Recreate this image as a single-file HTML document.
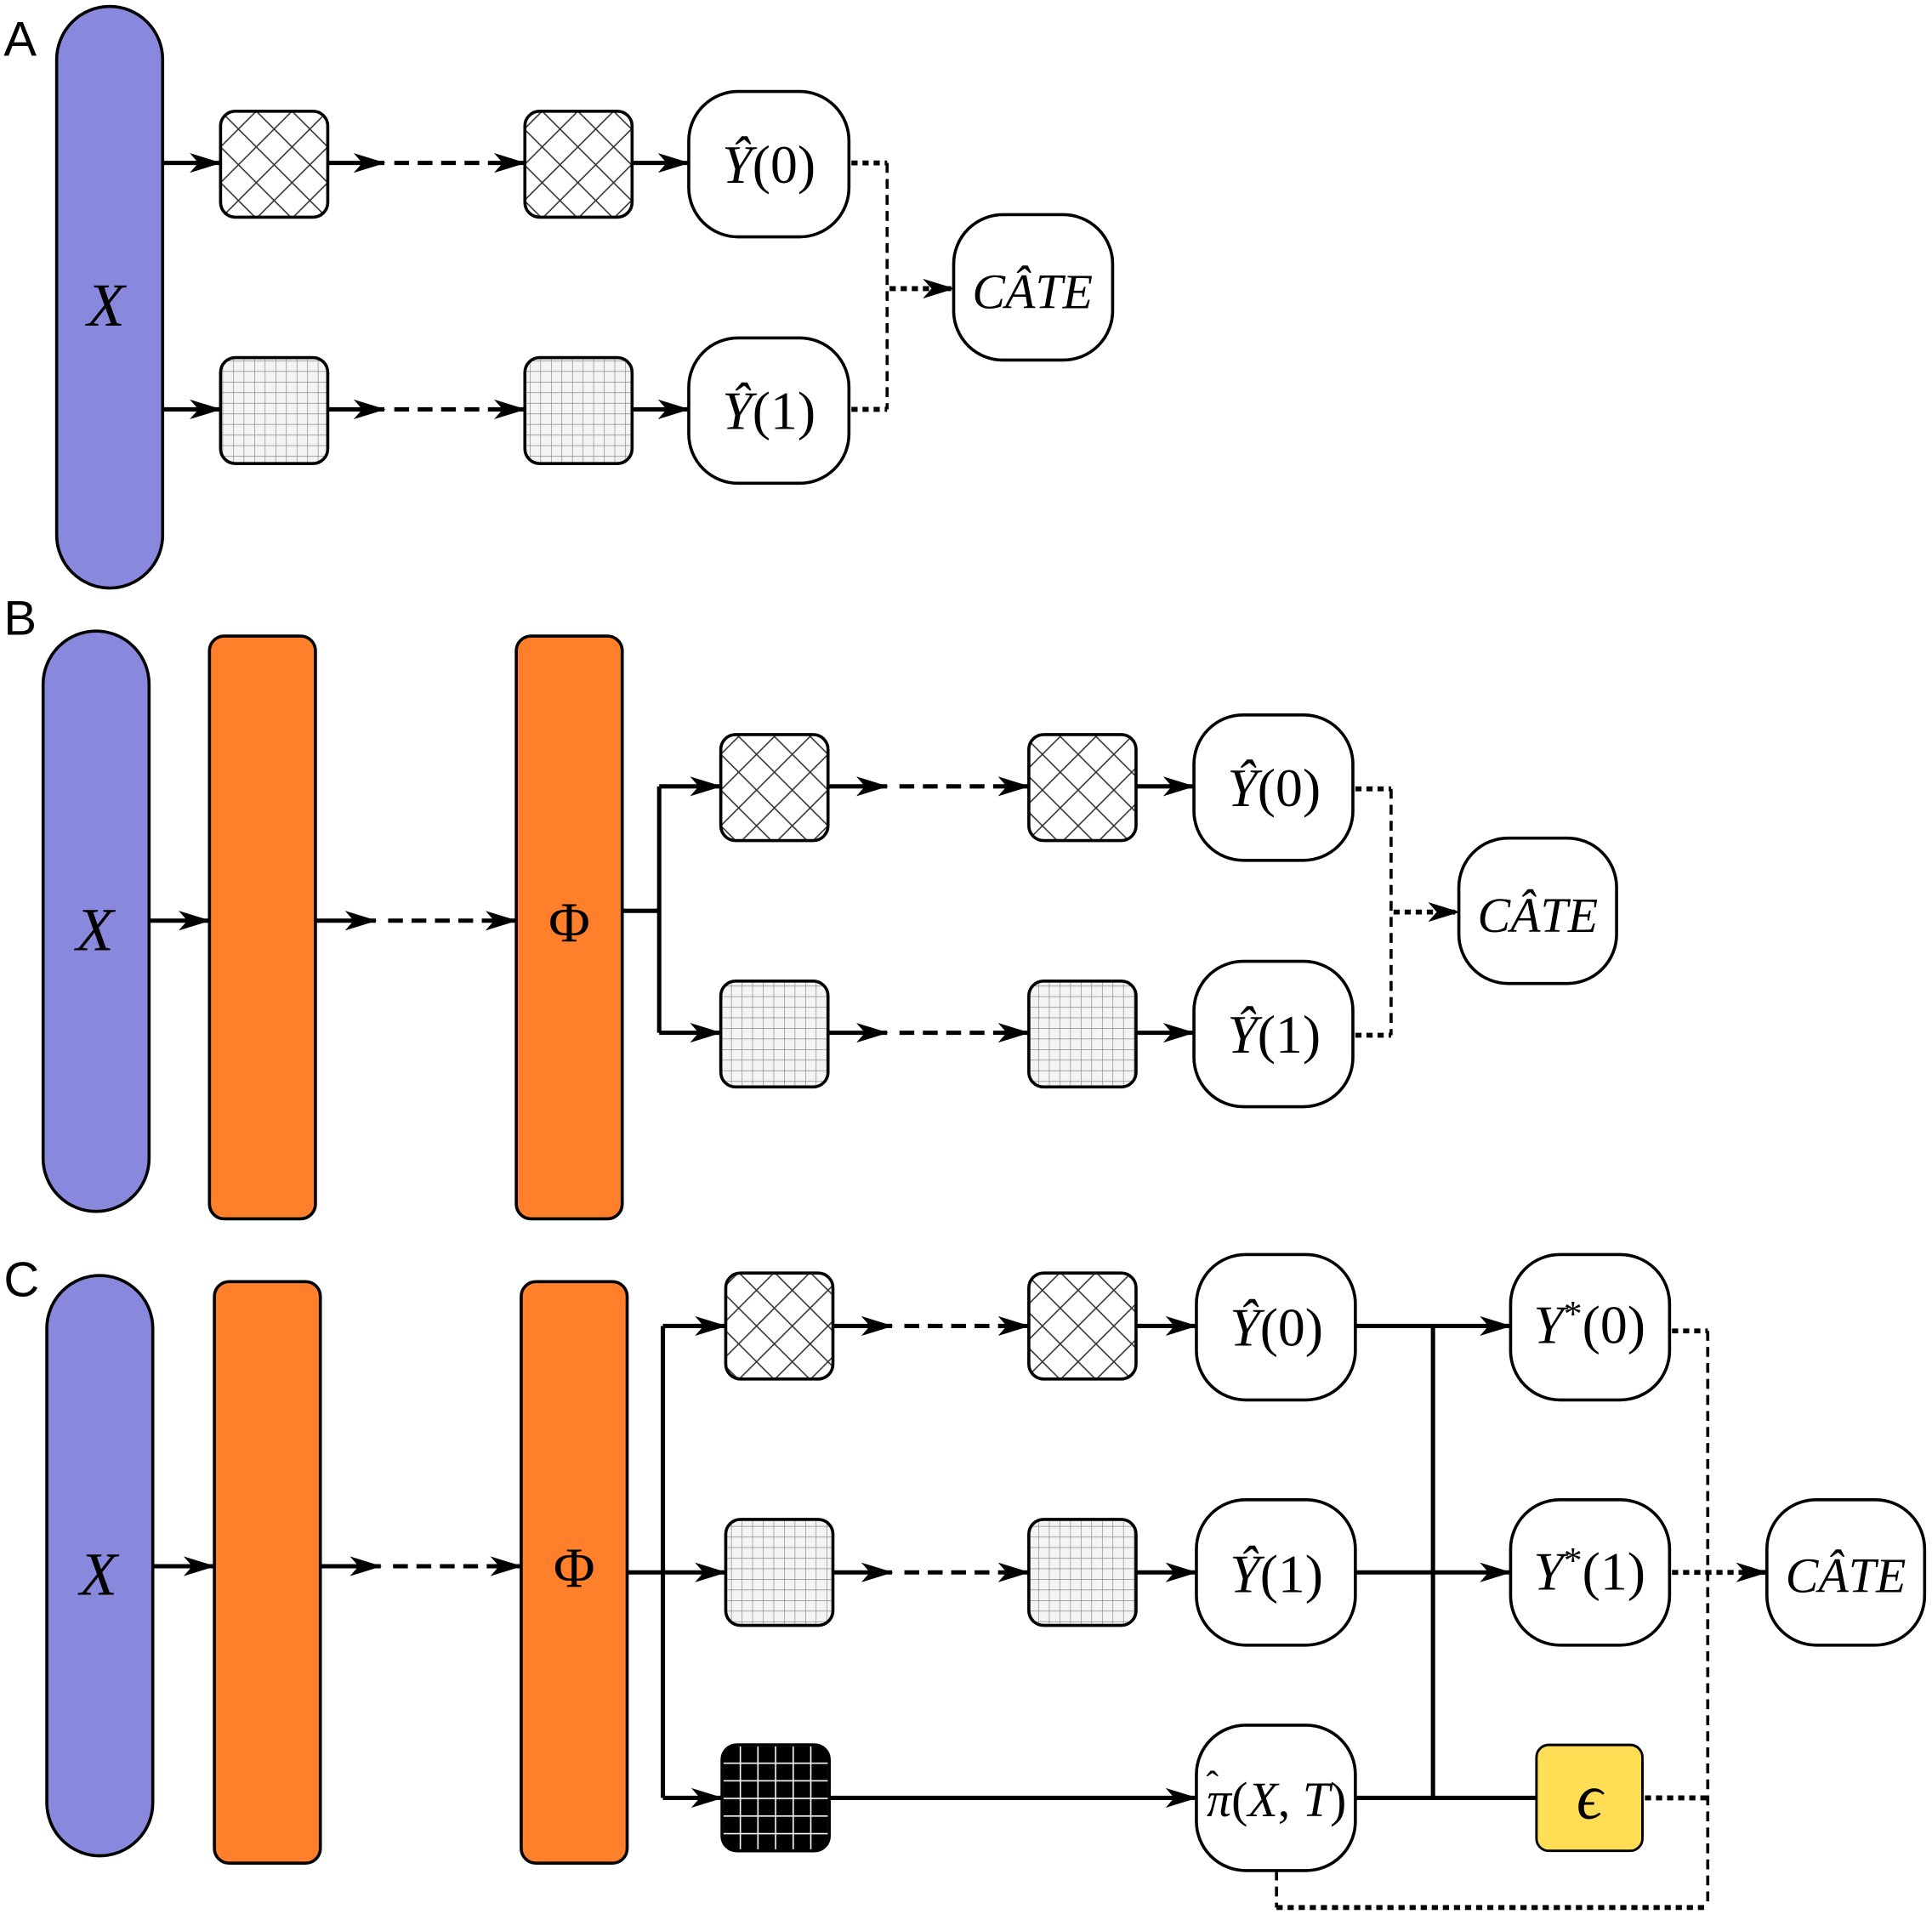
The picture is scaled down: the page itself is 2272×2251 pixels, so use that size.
<!DOCTYPE html>
<html><head><meta charset="utf-8">
<style>
html,body{margin:0;padding:0;background:#fff;}
svg{display:block;}
.s{font-family:"Liberation Serif",serif;}
.l{font-family:"Liberation Sans",sans-serif;}
</style></head>
<body>
<svg width="2272" height="2251" viewBox="0 0 1568 1553" xmlns="http://www.w3.org/2000/svg">
<defs>
  <marker id="ah" viewBox="0 0 26 16" refX="25" refY="8" markerWidth="26" markerHeight="16" markerUnits="userSpaceOnUse" orient="auto">
    <path d="M0,0 L26,8 L0,16 L7,8 z" fill="#000"/>
  </marker>
  <pattern id="diam" width="29" height="29" patternUnits="userSpaceOnUse" x="179" y="90">
    <path d="M0,0 L29,29 M29,0 L0,29" stroke="#333" stroke-width="1.1" fill="none"/>
  </pattern>
  <pattern id="grid" width="8.6" height="8.6" patternUnits="userSpaceOnUse">
    <rect width="8.6" height="8.6" fill="#f4f4f4"/>
    <path d="M0,0 H8.6 M0,0 V8.6" stroke="#777" stroke-width="0.8" fill="none"/>
  </pattern>
  <pattern id="bgrid" width="14.3" height="14.3" patternUnits="userSpaceOnUse" x="586" y="1416">
    <rect width="14.3" height="14.3" fill="#000"/>
    <path d="M0,0 H14.3 M0,0 V14.3" stroke="#fff" stroke-width="2.2" fill="none"/>
  </pattern>
</defs>

<text class="l" x="3" y="45" font-size="40">A</text>
<text class="l" x="3" y="515" font-size="40">B</text>
<text class="l" x="3" y="1052" font-size="40">C</text>

<g class="s">
<!-- ================= PANEL A ================= -->
<rect x="46" y="5" width="86" height="472" rx="43" fill="#8888dd" stroke="#000" stroke-width="2.5"/>
<text x="86" y="264" font-size="50" font-style="italic" text-anchor="middle">X</text>

<g stroke="#000" stroke-width="2.5">
<rect x="179" y="90" width="87" height="86" rx="12" fill="url(#diam)"/>
<rect x="426" y="90" width="87" height="86" rx="12" fill="url(#diam)"/>
<rect x="179" y="290" width="87" height="86" rx="12" fill="url(#grid)"/>
<rect x="426" y="290" width="87" height="86" rx="12" fill="url(#grid)"/>
<rect x="559" y="74" width="130" height="118" rx="40" fill="#fff"/>
<rect x="559" y="274" width="130" height="118" rx="40" fill="#fff"/>
<rect x="774" y="174" width="129" height="118" rx="40" fill="#fff"/>
</g>
<g stroke="#000" stroke-width="3.5" fill="none">
<line x1="132" y1="132" x2="179" y2="132" marker-end="url(#ah)"/>
<line x1="266" y1="132" x2="312" y2="132" marker-end="url(#ah)"/>
<line x1="320" y1="132" x2="426" y2="132" stroke-dasharray="12,7" marker-end="url(#ah)"/>
<line x1="513" y1="132" x2="559" y2="132" marker-end="url(#ah)"/>
<line x1="132" y1="332" x2="179" y2="332" marker-end="url(#ah)"/>
<line x1="266" y1="332" x2="312" y2="332" marker-end="url(#ah)"/>
<line x1="320" y1="332" x2="426" y2="332" stroke-dasharray="12,7" marker-end="url(#ah)"/>
<line x1="513" y1="332" x2="559" y2="332" marker-end="url(#ah)"/>
</g>
<g stroke="#000" fill="none">
<path d="M691,132 H720" stroke-width="4" stroke-dasharray="5,4"/>
<path d="M691,332 H720" stroke-width="4" stroke-dasharray="5,4"/>
<path d="M720,132 V332" stroke-width="2.5" stroke-dasharray="8,5"/>
<line x1="722" y1="234" x2="774" y2="234" stroke-width="4" stroke-dasharray="5,4" marker-end="url(#ah)"/>
</g>
<text x="624" y="148" font-size="44" text-anchor="middle"><tspan font-style="italic">Ŷ</tspan>(0)</text>
<text x="624" y="348" font-size="44" text-anchor="middle"><tspan font-style="italic">Ŷ</tspan>(1)</text>
<text x="838" y="250" font-size="40" font-style="italic" text-anchor="middle">CÂTE</text>

<!-- ================= PANEL B ================= -->
<rect x="35" y="512" width="86" height="471" rx="43" fill="#8888dd" stroke="#000" stroke-width="2.5"/>
<text x="77" y="771" font-size="50" font-style="italic" text-anchor="middle">X</text>
<g stroke="#000" stroke-width="2.5">
<rect x="170" y="516" width="86" height="473" rx="12" fill="#ff7f2a"/>
<rect x="419" y="516" width="86" height="473" rx="12" fill="#ff7f2a"/>
<rect x="585" y="596" width="87" height="86" rx="12" fill="url(#diam)"/>
<rect x="835" y="596" width="87" height="86" rx="12" fill="url(#diam)"/>
<rect x="585" y="796" width="87" height="86" rx="12" fill="url(#grid)"/>
<rect x="835" y="796" width="87" height="86" rx="12" fill="url(#grid)"/>
<rect x="969" y="580" width="129" height="118" rx="40" fill="#fff"/>
<rect x="969" y="780" width="129" height="118" rx="40" fill="#fff"/>
<rect x="1184" y="680" width="128" height="118" rx="40" fill="#fff"/>
</g>
<text x="462" y="764" font-size="46" text-anchor="middle">Φ</text>
<g stroke="#000" stroke-width="3.5" fill="none">
<line x1="121" y1="747" x2="170" y2="747" marker-end="url(#ah)"/>
<line x1="256" y1="747" x2="305" y2="747" marker-end="url(#ah)"/>
<line x1="315" y1="747" x2="419" y2="747" stroke-dasharray="12,7" marker-end="url(#ah)"/>
<path d="M505,739 H535"/>
<path d="M535,638 V838"/>
<line x1="535" y1="638" x2="585" y2="638" marker-end="url(#ah)"/>
<line x1="535" y1="838" x2="585" y2="838" marker-end="url(#ah)"/>
<line x1="672" y1="638" x2="720" y2="638" marker-end="url(#ah)"/>
<line x1="730" y1="638" x2="835" y2="638" stroke-dasharray="12,7" marker-end="url(#ah)"/>
<line x1="922" y1="638" x2="969" y2="638" marker-end="url(#ah)"/>
<line x1="672" y1="838" x2="720" y2="838" marker-end="url(#ah)"/>
<line x1="730" y1="838" x2="835" y2="838" stroke-dasharray="12,7" marker-end="url(#ah)"/>
<line x1="922" y1="838" x2="969" y2="838" marker-end="url(#ah)"/>
</g>
<g stroke="#000" fill="none">
<path d="M1100,640 H1129" stroke-width="4" stroke-dasharray="5,4"/>
<path d="M1100,840 H1129" stroke-width="4" stroke-dasharray="5,4"/>
<path d="M1129,640 V840" stroke-width="2.5" stroke-dasharray="8,5"/>
<line x1="1131" y1="740" x2="1184" y2="740" stroke-width="4" stroke-dasharray="5,4" marker-end="url(#ah)"/>
</g>
<text x="1034" y="654" font-size="44" text-anchor="middle"><tspan font-style="italic">Ŷ</tspan>(0)</text>
<text x="1034" y="854" font-size="44" text-anchor="middle"><tspan font-style="italic">Ŷ</tspan>(1)</text>
<text x="1248" y="756" font-size="40" font-style="italic" text-anchor="middle">CÂTE</text>

<!-- ================= PANEL C ================= -->
<rect x="38" y="1035" width="86" height="471" rx="43" fill="#8888dd" stroke="#000" stroke-width="2.5"/>
<text x="80" y="1294" font-size="50" font-style="italic" text-anchor="middle">X</text>
<g stroke="#000" stroke-width="2.5">
<rect x="174" y="1040" width="86" height="472" rx="12" fill="#ff7f2a"/>
<rect x="423" y="1040" width="86" height="472" rx="12" fill="#ff7f2a"/>
<rect x="589" y="1033" width="87" height="86" rx="12" fill="url(#diam)"/>
<rect x="835" y="1033" width="87" height="86" rx="12" fill="url(#diam)"/>
<rect x="589" y="1233" width="87" height="86" rx="12" fill="url(#grid)"/>
<rect x="835" y="1233" width="87" height="86" rx="12" fill="url(#grid)"/>
<rect x="586" y="1416" width="87" height="86" rx="12" fill="url(#bgrid)"/>
<rect x="971" y="1018" width="129" height="118" rx="40" fill="#fff"/>
<rect x="971" y="1217" width="129" height="118" rx="40" fill="#fff"/>
<rect x="971" y="1400" width="129" height="118" rx="40" fill="#fff"/>
<rect x="1226" y="1018" width="129" height="118" rx="40" fill="#fff"/>
<rect x="1226" y="1217" width="129" height="118" rx="40" fill="#fff"/>
<rect x="1434" y="1217" width="128" height="118" rx="40" fill="#fff"/>
<rect x="1247" y="1416" width="86" height="86" rx="10" fill="#ffdd55" stroke-width="2"/>
</g>
<text x="466" y="1288" font-size="46" text-anchor="middle">Φ</text>
<g stroke="#000" stroke-width="3.5" fill="none">
<line x1="124" y1="1271" x2="174" y2="1271" marker-end="url(#ah)"/>
<line x1="260" y1="1271" x2="309" y2="1271" marker-end="url(#ah)"/>
<line x1="319" y1="1271" x2="423" y2="1271" stroke-dasharray="12,7" marker-end="url(#ah)"/>
<line x1="509" y1="1276" x2="589" y2="1276" marker-end="url(#ah)"/>
<path d="M538,1076 V1459"/>
<line x1="538" y1="1076" x2="589" y2="1076" marker-end="url(#ah)"/>
<line x1="538" y1="1459" x2="586" y2="1459" marker-end="url(#ah)"/>
<line x1="676" y1="1076" x2="724" y2="1076" marker-end="url(#ah)"/>
<line x1="734" y1="1076" x2="835" y2="1076" stroke-dasharray="12,7" marker-end="url(#ah)"/>
<line x1="922" y1="1076" x2="971" y2="1076" marker-end="url(#ah)"/>
<line x1="676" y1="1276" x2="724" y2="1276" marker-end="url(#ah)"/>
<line x1="734" y1="1276" x2="835" y2="1276" stroke-dasharray="12,7" marker-end="url(#ah)"/>
<line x1="922" y1="1276" x2="971" y2="1276" marker-end="url(#ah)"/>
<line x1="673" y1="1459" x2="971" y2="1459" marker-end="url(#ah)"/>
<line x1="1100" y1="1076" x2="1226" y2="1076" marker-end="url(#ah)"/>
<line x1="1100" y1="1276" x2="1226" y2="1276" marker-end="url(#ah)"/>
<path d="M1100,1459 H1247"/>
<path d="M1163,1076 V1459"/>
</g>
<g stroke="#000" fill="none">
<path d="M1357,1080 H1386" stroke-width="4" stroke-dasharray="5,4"/>
<path d="M1386,1080 V1548" stroke-width="2.5" stroke-dasharray="8,5"/>
<line x1="1357" y1="1276" x2="1434" y2="1276" stroke-width="4" stroke-dasharray="5,4" marker-end="url(#ah)"/>
<path d="M1335,1459 H1386" stroke-width="4" stroke-dasharray="5,4"/>
<path d="M1036,1518 V1548" stroke-width="2.5" stroke-dasharray="8,5"/>
<path d="M1036,1548 H1386" stroke-width="4" stroke-dasharray="5,4"/>
</g>
<text x="1036" y="1092" font-size="44" text-anchor="middle"><tspan font-style="italic">Ŷ</tspan>(0)</text>
<text x="1036" y="1292" font-size="44" text-anchor="middle"><tspan font-style="italic">Ŷ</tspan>(1)</text>
<text x="1036" y="1474" font-size="40" text-anchor="middle"><tspan font-style="italic">π</tspan>(<tspan font-style="italic">X</tspan>, <tspan font-style="italic">T</tspan>)</text>
<text x="984" y="1458" font-size="30" text-anchor="middle">ˆ</text>
<text x="1290" y="1090" font-size="44" text-anchor="middle"><tspan font-style="italic">Y</tspan><tspan font-size="30" dy="-14">*</tspan><tspan dy="14">(0)</tspan></text>
<text x="1290" y="1290" font-size="44" text-anchor="middle"><tspan font-style="italic">Y</tspan><tspan font-size="30" dy="-14">*</tspan><tspan dy="14">(1)</tspan></text>
<text x="1498" y="1292" font-size="40" font-style="italic" text-anchor="middle">CÂTE</text>
<text x="1290" y="1476" font-size="52" font-style="italic" text-anchor="middle">ϵ</text>
</g>
</svg>
</body></html>
